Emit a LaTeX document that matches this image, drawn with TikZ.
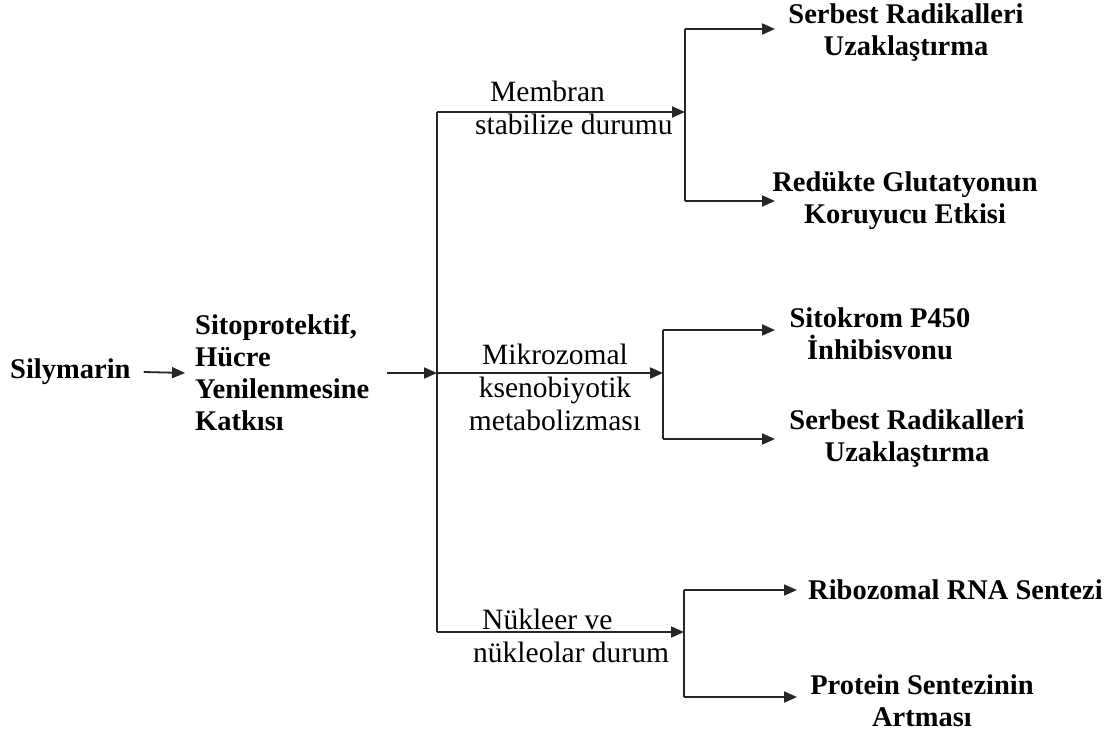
\documentclass[tikz,border=0pt]{standalone}
\usepackage{fontspec}
\setmainfont{Liberation Serif}
\usetikzlibrary{arrows.meta}
\begin{document}
\begin{tikzpicture}[x=1pt,y=-1pt,
  box/.style={font=\fontsize{28.5}{32}\selectfont\bfseries, inner sep=5pt, text=black},
  lbl/.style={font=\fontsize{29.5}{33}\selectfont, inner sep=0pt, text=black},
  arr/.style={line width=1.8pt, draw=black!85, -{Triangle[length=13pt,width=11pt]}},
  ln/.style={line width=1.8pt, draw=black!85}]
\useasboundingbox (0,0) rectangle (1118,735);
% nodes
\node[box, anchor=west] (sily) at (5,372) {Silymarin};
\node[box, anchor=west, align=left] (sito) at (190,373) {Sitoprotektif,\\Hücre\\Yenilenmesine\\Katkısı};
\node[box, align=center] (sr1) at (906,33) {Serbest Radikalleri\\Uzaklaştırma};
\node[box, align=center] (rg) at (905,201) {Redükte Glutatyonun\\Koruyucu Etkisi};
\node[box, align=center] (sp) at (880,334) {Sitokrom P450\\İnhibisvonu};
\node[box, align=center] (sr2) at (907,439) {Serbest Radikalleri\\Uzaklaştırma};
\node[box, anchor=west] (rna) at (803,590) {Ribozomal RNA Sentezi};
\node[box, align=center] (ps) at (922,701) {Protein Sentezinin\\Artması};
% junctions
\coordinate (tIn) at (437,373);
\coordinate (tTop) at (437,112);
\coordinate (tBot) at (437,632);
\coordinate (jA) at (685,112);
\coordinate (jB) at (663,373);
\coordinate (jC) at (684,632);
\coordinate (jA1) at (685,29);
\coordinate (jA2) at (685,201);
\coordinate (jB1) at (663,330);
\coordinate (jB2) at (663,439);
\coordinate (jC1) at (684,590);
\coordinate (jC2) at (684,697);
% connectors
\draw[arr] (sily.east) ++(8,0) coordinate (s0) -- (sito.west -| 185,0);
\draw[arr] (387,373) coordinate (s1) -- (tIn);
\draw[ln] (tTop) -- (tBot);
\draw[arr] (tTop) -- (jA);
\draw[arr] (tIn) -- (jB);
\draw[arr] (tBot) -- (jC);
\draw[ln] (jA1) -- (jA2);
\draw[arr] (jA1) -- (jA1 -| 775,0);
\draw[arr] (jA2) -- (jA2 -| 775,0);
\draw[ln] (jB1) -- (jB2);
\draw[arr] (jB1) -- (jB1 -| 775,0);
\draw[arr] (jB2) -- (jB2 -| 775,0);
\draw[ln] (jC1) -- (jC2);
\draw[arr] (jC1) -- (jC1 -| 797,0);
\draw[arr] (jC2) -- (jC2 -| 797,0);
% labels
\node[lbl, anchor=west, align=left] (l1) at (475,108) {\hspace{15pt}Membran\\stabilize durumu};
\node[lbl, align=center] (l2) at (555,387) {Mikrozomal\\ksenobiyotik\\metabolizması};
\node[lbl, anchor=west, align=left] (l3) at (473,636) {\hspace{9pt}Nükleer ve\\nükleolar durum};
\end{tikzpicture}
\end{document}
